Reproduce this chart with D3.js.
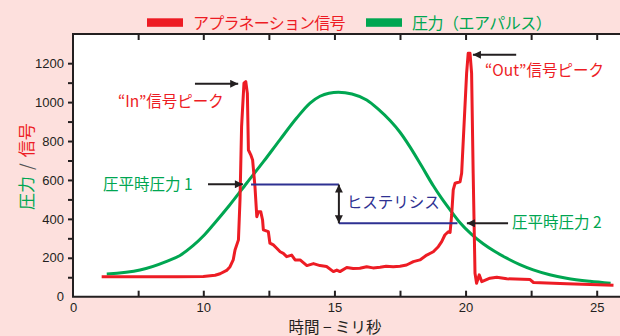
<!DOCTYPE html>
<html>
<head>
<meta charset="utf-8">
<script src="https://cdn.jsdelivr.net/npm/d3@7"></script>
<style>
    body { margin: 0; background: #fde0dd; }
    text { font-family: "Noto Sans CJK JP", "Liberation Sans", sans-serif; }
</style>
</head>
<body>
<script>
// signal trace (red), time in ms / value
const signalTime = [2.2, 4, 6, 8, 10, 10.45, 10.64, 10.89, 11.02, 11.14, 11.21, 11.34, 11.40, 11.46, 11.55, 11.62, 11.68, 11.72, 11.81, 11.88,
    11.97, 12.04, 12.10, 12.19, 12.26, 12.29, 12.48, 12.54, 12.67, 12.80, 12.93, 13.05, 13.18, 13.37, 13.50, 13.69, 13.95, 14.20,
    14.45, 14.70, 14.96, 15.09, 15.21, 15.47, 15.71, 15.97, 16.23, 16.47, 16.74, 16.97, 17.24, 17.50, 17.75, 18.01, 18.26, 18.52,
    18.77, 18.96, 19.09, 19.21, 19.34, 19.41, 19.47, 19.53, 19.60, 19.79, 19.85, 20.04, 20.10, 20.17, 20.23, 20.29, 20.36, 20.42,
    20.52, 20.62, 20.93, 21.19, 21.57, 22.46, 22.59, 23.86, 25.64];
const signalValue = [103, 103, 103, 103, 104, 110, 118, 135, 154, 189, 240, 292, 500, 874, 1097, 1105, 1045, 754, 729, 703,
    566, 411, 437, 437, 394, 343, 334, 275, 266, 249, 231, 223, 206, 214, 189, 189, 160, 170,
    160, 155, 129, 137, 129, 150, 145, 146, 154, 148, 151, 156, 154, 157, 163, 180, 189, 214,
    231, 257, 283, 317, 334, 330, 420, 549, 583, 591, 634, 1149, 1251, 1251, 1149, 634, 120, 69,
    112, 77, 95, 100, 92, 88, 73, 66, 59];

// pressure trace (green)
const pressureTime = [2.59, 5.14, 7.19, 8.21, 9.21, 10, 10.38, 11.0, 11.65, 12.30, 12.92, 13.56, 14.07, 14.45, 14.79, 15.15,
    15.67, 16.23, 16.66, 17.12, 17.50, 17.88, 18.33, 18.77, 19.09, 19.41, 19.79, 20.23, 20.67, 21.12, 21.57, 22.07, 22.58,
    23.21, 23.85, 24.74, 25.53];
const pressureValue = [117, 137, 182, 212, 262, 312, 370, 470, 583, 695, 806, 918, 995, 1030, 1046, 1051,
    1042, 1011, 965, 905, 845, 770, 670, 570, 505, 446, 380, 320, 272, 232, 198, 165, 138,
    113, 95, 79, 69];

// axis ticks
const xTicks = [0, 5, 10, 12.5, 15, 17.5, 20, 22.5, 25];
const xLabels = [0, 10, 15, 20, 25];
const yTicks = [0, 100, 200, 300, 400, 500, 600, 700, 800, 900, 1000, 1100, 1200];

// legend
const legendNames = ["アプラネーション信号", "圧力（エアパルス）"];

// hysteresis levels and annotations (data coordinates)
const hystLevels = [576, 377];
const hystTimes = [11.82, 15.17, 19.69];
const peakLabels = ["“In”信号ピーク", "“Out”信号ピーク"];
const pressLabels = ["圧平時圧力 1", "圧平時圧力 2"];

(function () {
    const red = "#ed1c24", green = "#00a651", navy = "#2e3192", ink = "#231f20";

    const svg = d3.select("body").append("svg")
        .attr("width", 620)
        .attr("height", 336);

    svg.append("rect").attr("width", 620).attr("height", 336).attr("fill", "#fde0dd");

    // x axis is compressed between 0 and 10
    const xScale = d3.scaleLinear()
        .domain([0, 10, 25])
        .range([73, 203.3, 596.7]);
    const yScale = d3.scaleLinear()
        .domain([0, 1350])
        .range([296.7, 34]);

    const left = 73, right = 630, top = yScale(1350), bottom = yScale(0);

    // plot background
    svg.append("rect")
        .attr("x", left).attr("y", top)
        .attr("width", right - left).attr("height", bottom - top)
        .attr("fill", "#fff");

    // arrow heads
    const defs = svg.append("defs");
    defs.append("marker")
        .attr("id", "head")
        .attr("markerUnits", "userSpaceOnUse")
        .attr("viewBox", "0 0 10 10")
        .attr("refX", 10).attr("refY", 5)
        .attr("markerWidth", 9).attr("markerHeight", 8)
        .attr("orient", "auto-start-reverse")
        .append("path")
        .attr("d", "M0,0L10,5L0,10Z")
        .attr("fill", ink);

    // axes
    const xAxis = d3.axisBottom(xScale)
        .tickValues(xTicks)
        .tickSizeInner(-6).tickSizeOuter(0)
        .tickPadding(6)
        .tickFormat(d => xLabels.includes(d) ? d : "");
    const gx = svg.append("g")
        .attr("transform", `translate(0, ${bottom})`)
        .call(xAxis);

    const xTop = d3.axisTop(xScale)
        .tickValues(xTicks.slice(1))
        .tickSizeInner(-6).tickSizeOuter(0)
        .tickFormat("");
    const gxt = svg.append("g")
        .attr("transform", `translate(0, ${top})`)
        .call(xTop);

    const yAxis = d3.axisLeft(yScale)
        .tickValues(yTicks)
        .tickSizeInner(5).tickSizeOuter(0)
        .tickPadding(4)
        .tickFormat(d => d % 200 === 0 ? d : "");
    const gy = svg.append("g")
        .attr("transform", `translate(${left}, 0)`)
        .call(yAxis);

    [gx, gxt, gy].forEach(g => {
        g.select(".domain").remove();
        g.selectAll("line").attr("stroke", ink).attr("stroke-width", 2);
        g.selectAll("text")
            .attr("fill", ink)
            .style("font-family", "'Liberation Sans', Arial, sans-serif")
            .style("font-size", "13px");
    });
    gy.selectAll(".tick").filter(d => d === 0).select("line").remove();
    gx.selectAll(".tick").filter(d => d === 0).select("line").remove();

    // box
    svg.append("path")
        .attr("d", `M${right},${top}H${left}V${bottom}H${right}`)
        .attr("fill", "none")
        .attr("stroke", ink)
        .attr("stroke-width", 2);

    // curves
    const pressure = pressureTime.map((t, i) => [t, pressureValue[i]]);
    const signal = signalTime.map((t, i) => [t, signalValue[i]]);

    const line = d3.line()
        .x(d => xScale(d[0]))
        .y(d => yScale(d[1]));

    svg.append("path")
        .attr("d", line.curve(d3.curveMonotoneX)(pressure))
        .attr("fill", "none")
        .attr("stroke", green)
        .attr("stroke-width", 3);

    svg.append("path")
        .attr("d", line.curve(d3.curveLinear)(signal))
        .attr("fill", "none")
        .attr("stroke", red)
        .attr("stroke-width", 3)
        .attr("stroke-linejoin", "round");

    // hysteresis lines
    svg.append("line")
        .attr("x1", xScale(hystTimes[0])).attr("x2", xScale(hystTimes[1]))
        .attr("y1", yScale(hystLevels[0])).attr("y2", yScale(hystLevels[0]))
        .attr("stroke", navy).attr("stroke-width", 2);
    svg.append("line")
        .attr("x1", xScale(hystTimes[1])).attr("x2", xScale(hystTimes[2]))
        .attr("y1", yScale(hystLevels[1])).attr("y2", yScale(hystLevels[1]))
        .attr("stroke", navy).attr("stroke-width", 2);

    function arrow(x1, y1, x2, y2, both) {
        const a = svg.append("line")
            .attr("x1", xScale(x1)).attr("y1", yScale(y1))
            .attr("x2", xScale(x2)).attr("y2", yScale(y2))
            .attr("stroke", ink).attr("stroke-width", 2)
            .attr("marker-end", "url(#head)");
        if (both) a.attr("marker-start", "url(#head)");
    }
    arrow(hystTimes[1], hystLevels[0], hystTimes[1], hystLevels[1], true);
    arrow(9.36, 1094, 11.33, 1094);
    arrow(21.93, 1243, 20.28, 1243);
    arrow(10.18, 578, 11.51, 578);
    arrow(21.62, 377, 20.05, 377);

    // annotation texts
    function label(x, y, txt, color) {
        svg.append("text")
            .attr("x", xScale(x)).attr("y", yScale(y))
            .attr("dy", "0.36em")
            .attr("fill", color)
            .style("font-size", "15.5px")
            .text(txt);
    }
    label(3.45, 1002, peakLabels[0], red);
    label(20.74, 1162, peakLabels[1], red);
    label(2.3, 579, pressLabels[0], green);
    label(21.77, 383, pressLabels[1], green);
    label(15.47, 482, "ヒステリシス", navy);

    // legend
    const legendX = [147, 366];
    const legendCol = [red, green];
    const legendSpacing = [-0.8, -0.5];
    legendNames.forEach((name, i) => {
        svg.append("rect")
            .attr("x", legendX[i]).attr("y", 18.3)
            .attr("width", 36).attr("height", 8.5)
            .attr("fill", legendCol[i]);
        svg.append("text")
            .attr("x", legendX[i] + 46).attr("y", 28.5)
            .attr("fill", legendCol[i])
            .style("font-size", "16px")
            .style("letter-spacing", legendSpacing[i] + "px")
            .text(name);
    });

    // axis titles
    svg.append("text")
        .attr("x", 335).attr("y", 333)
        .attr("text-anchor", "middle")
        .attr("fill", ink)
        .style("font-size", "15.5px")
        .text("時間 − ミリ秒");

    const yt = svg.append("text")
        .attr("transform", "translate(33, 166.7) rotate(-90)")
        .attr("text-anchor", "middle")
        .style("font-size", "17px");
    yt.append("tspan").attr("fill", green).text("圧力");
    yt.append("tspan").attr("fill", "#555").attr("dx", 6).text("/");
    yt.append("tspan").attr("fill", red).attr("dx", 6).text("信号");
})();
</script>
</body>
</html>
